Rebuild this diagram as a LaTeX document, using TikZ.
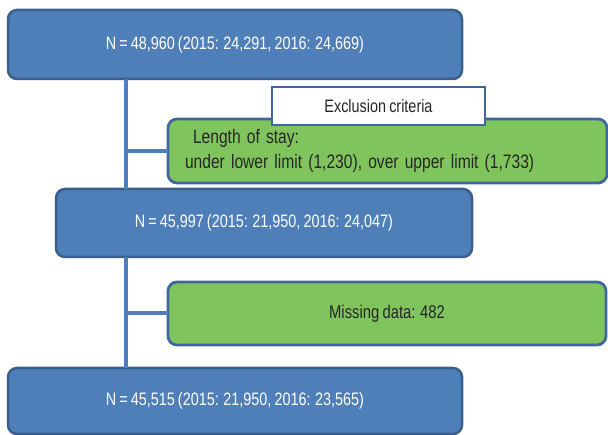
\documentclass[tikz,border=0pt]{standalone}
\usepackage{fontspec}
\setmainfont[FakeStretch=0.8,WordSpace=0.8]{Liberation Sans}
\definecolor{bfill}{HTML}{4F7FB8}
\definecolor{bdraw}{HTML}{3A5F8E}
\definecolor{gfill}{HTML}{80C45E}
\definecolor{gdraw}{HTML}{3F679C}
\definecolor{txt}{HTML}{262626}
\tikzset{
  bluebox/.style={draw=bdraw, fill=bfill, line width=2.5pt, rounded corners=9pt,
    inner sep=0pt, outer sep=0pt, text=white, font=\fontsize{18}{22}\selectfont},
  greenbox/.style={draw=gdraw, fill=gfill, line width=2.8pt, rounded corners=9pt,
    inner sep=0pt, outer sep=0pt, text=txt, font=\fontsize{18.5}{25}\selectfont},
  exclbox/.style={draw=gdraw, fill=white, line width=2.5pt,
    inner sep=0pt, outer sep=0pt, text=txt, font=\fontsize{18}{22}\selectfont},
  conn/.style={draw=bfill, line width=4pt}
}
\begin{document}
\begin{tikzpicture}[x=1pt,y=-1pt]
\useasboundingbox (0,0) rectangle (608,435);
\coordinate (v1) at (126,151);
\coordinate (v2) at (126,313.5);
\node[bluebox, minimum width=454pt, minimum height=69pt] (b1) at (235,44.5) {N\,=\,48,960 (2015: 24,291, 2016: 24,669)};
\node[bluebox, minimum width=416pt, minimum height=68pt] (b2) at (264,223) {N\,=\,45,997 (2015: 21,950, 2016: 24,047)};
\node[bluebox, minimum width=454pt, minimum height=66pt] (b3) at (235,401) {N\,=\,45,515 (2015: 21,950, 2016: 23,565)};
\node[greenbox, minimum width=439pt, minimum height=64pt, text width=405pt, align=left, inner xsep=17pt] (g1) at (387.5,151)
  {\fontsize{19.5}{25}\selectfont\hspace*{8pt}Length of stay:\\under lower limit (1,230), over upper limit (1,733)};
\node[greenbox, minimum width=438pt, minimum height=63pt] (g2) at (387,313.5) {Missing data: 482};
\node[exclbox, minimum width=213pt, minimum height=38pt] (ex) at (378.5,106) {Exclusion criteria};
\draw[conn] (b1.south -| v1) -- (b2.north -| v1);
\draw[conn] (b2.south -| v1) -- (b3.north -| v1);
\draw[conn] (v1) -- (g1.west);
\draw[conn] (v2) -- (g2.west);
\end{tikzpicture}
\end{document}
